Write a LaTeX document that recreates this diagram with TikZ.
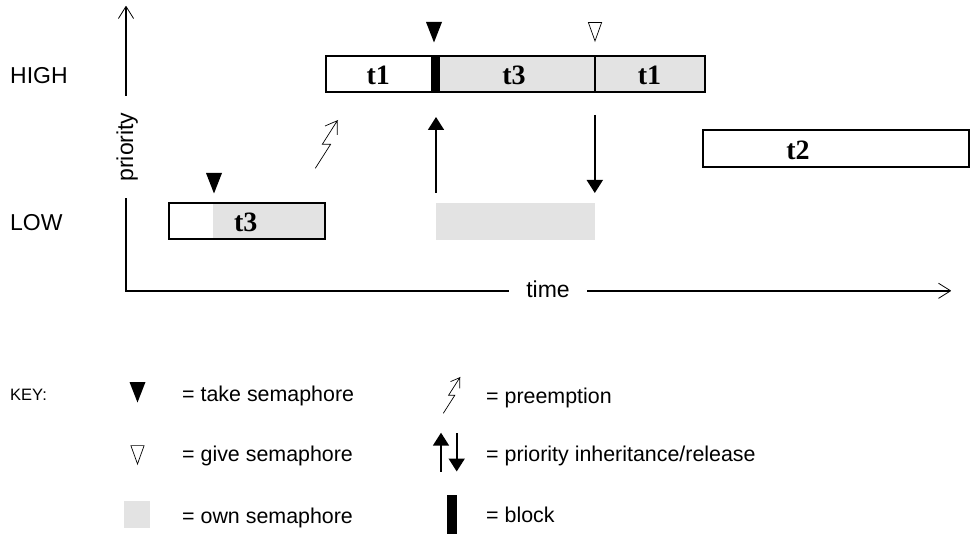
\documentclass[tikz,border=0pt]{standalone}
\usepackage{fontspec}
\setmainfont{Liberation Sans}
\newfontfamily\serifbold{Liberation Serif}
\usetikzlibrary{arrows.meta}
\definecolor{ownc}{gray}{0.89}
\tikzset{
  x=1pt,y=-1pt,
  lab/.style={inner sep=0pt,anchor=base west,font=\fontsize{23}{26}\selectfont},
  keytxt/.style={inner sep=0pt,anchor=base west,font=\fontsize{21.4}{24}\selectfont},
  task/.style={inner sep=0pt,anchor=base,font=\serifbold\bfseries\fontsize{28}{30}\selectfont},
  frame/.style={draw=black,line width=2pt,fill=none},
  own/.style={fill=ownc,draw=none},
  take/.style={fill=black,draw=none},
  give/.style={fill=white,draw=black,line width=0.7pt,line join=miter},
  axis/.style={draw=black,line width=1.6pt},
  openhead/.style={-{Straight Barb[length=12pt,width=15pt,line width=0.8pt,round]}},
  bighead/.style={line width=1.8pt,-{Triangle[length=13pt,width=16pt]}},
  bolt/.style={draw=black,line width=0.7pt},
}
\newcommand{\taketri}[2]{\path[take] (#1-8,#2) -- (#1+8,#2) -- (#1,#2+20.5) -- cycle;}
\newcommand{\givetri}[2]{\path[give] (#1-6.6,#2+0.6) -- (#1+6.6,#2+0.6) -- (#1,#2+19) -- cycle;}
\newcommand{\boltat}[3]{\begin{scope}[shift={(#1,#2)},x=#3pt,y=-#3pt]
\draw[bolt] (0,0) -- (15.3,-24) -- (7,-24) -- (22,-47.6) -- (9.7,-42.3) (22,-47.6) -- (22,-33.3);
\end{scope}}
\begin{document}
\begin{tikzpicture}
\useasboundingbox (0,0) rectangle (973,534);
% axes
\coordinate (ytop) at (126,6);
\coordinate (ya) at (126,95.7);
\coordinate (yb) at (126,198.3);
\coordinate (origin) at (126,290.8);
\coordinate (xa) at (509,290.8);
\coordinate (xb) at (587,290.8);
\coordinate (xend) at (951,290.8);
\draw[axis,openhead] (ya) -- (ytop);
\draw[axis] (yb) -- (origin) -- (xa);
\draw[axis,openhead] (xb) -- (xend);
\node[lab,anchor=base,rotate=90] (prio) at (133,147) {priority};
\node[lab,anchor=base] (time) at (548,297) {time};
\node[lab] (high) at (10,84) {HIGH};
\node[lab] (low) at (10,231) {LOW};
% high bar
\path[own] (440,56) rectangle (705,92.5);
\fill[black] (431,56) rectangle (440,92.5);
\draw[line width=1.3pt] (595,56) -- (595,92.5);
\draw[frame] (325.5,56) rectangle (705,92.5);
\node[task] (t1a) at (378.3,85) {t1};
\node[task] (t3a) at (514,85) {t3};
\node[task] (t1b) at (649.5,85) {t1};
% t2
\draw[frame] (703,130.3) rectangle (969,166.8);
\node[task] (t2) at (798,159.3) {t2};
% low bar
\path[own] (213,203) rectangle (325,239);
\draw[frame] (169,202.8) rectangle (325,239.3);
\node[task] (t3b) at (245.7,231.7) {t3};
% gray
\path[own] (436,203) rectangle (595,240);
% markers
\taketri{434}{22}
\givetri{595}{22}
\taketri{214}{173}
% arrows
\coordinate (ua) at (436,193);
\coordinate (ub) at (436,117);
\coordinate (da) at (594.8,115);
\coordinate (db) at (594.8,193);
\draw[bighead] (ua) -- (ub);
\draw[bighead] (da) -- (db);
\boltat{315.3}{168.3}{1}
% key
\node[lab,font=\fontsize{16.5}{19}\selectfont] (key) at (10,400) {KEY:};
\taketri{137.5}{382}
\givetri{137.5}{445}
\path[own] (124,501) rectangle (150,527.7);
\node[keytxt] (k1) at (182,401.7) {= take semaphore};
\node[keytxt] (k2) at (182,461) {= give semaphore};
\node[keytxt] (k3) at (182,523) {= own semaphore};
\node[keytxt] (k4) at (486,403) {= preemption};
\node[keytxt] (k5) at (486,461.5) {= priority inheritance/release};
\node[keytxt] (k6) at (486,522.7) {= block};
\boltat{443.3}{413.3}{0.75}
\coordinate (ka) at (441,471.7);
\coordinate (kb) at (441,432.7);
\coordinate (kc) at (456.7,433.3);
\coordinate (kd) at (456.7,471.5);
\draw[bighead] (ka) -- (kb);
\draw[bighead] (kc) -- (kd);
\fill[black] (447.3,495) rectangle (457,533.5);
\end{tikzpicture}
\end{document}
